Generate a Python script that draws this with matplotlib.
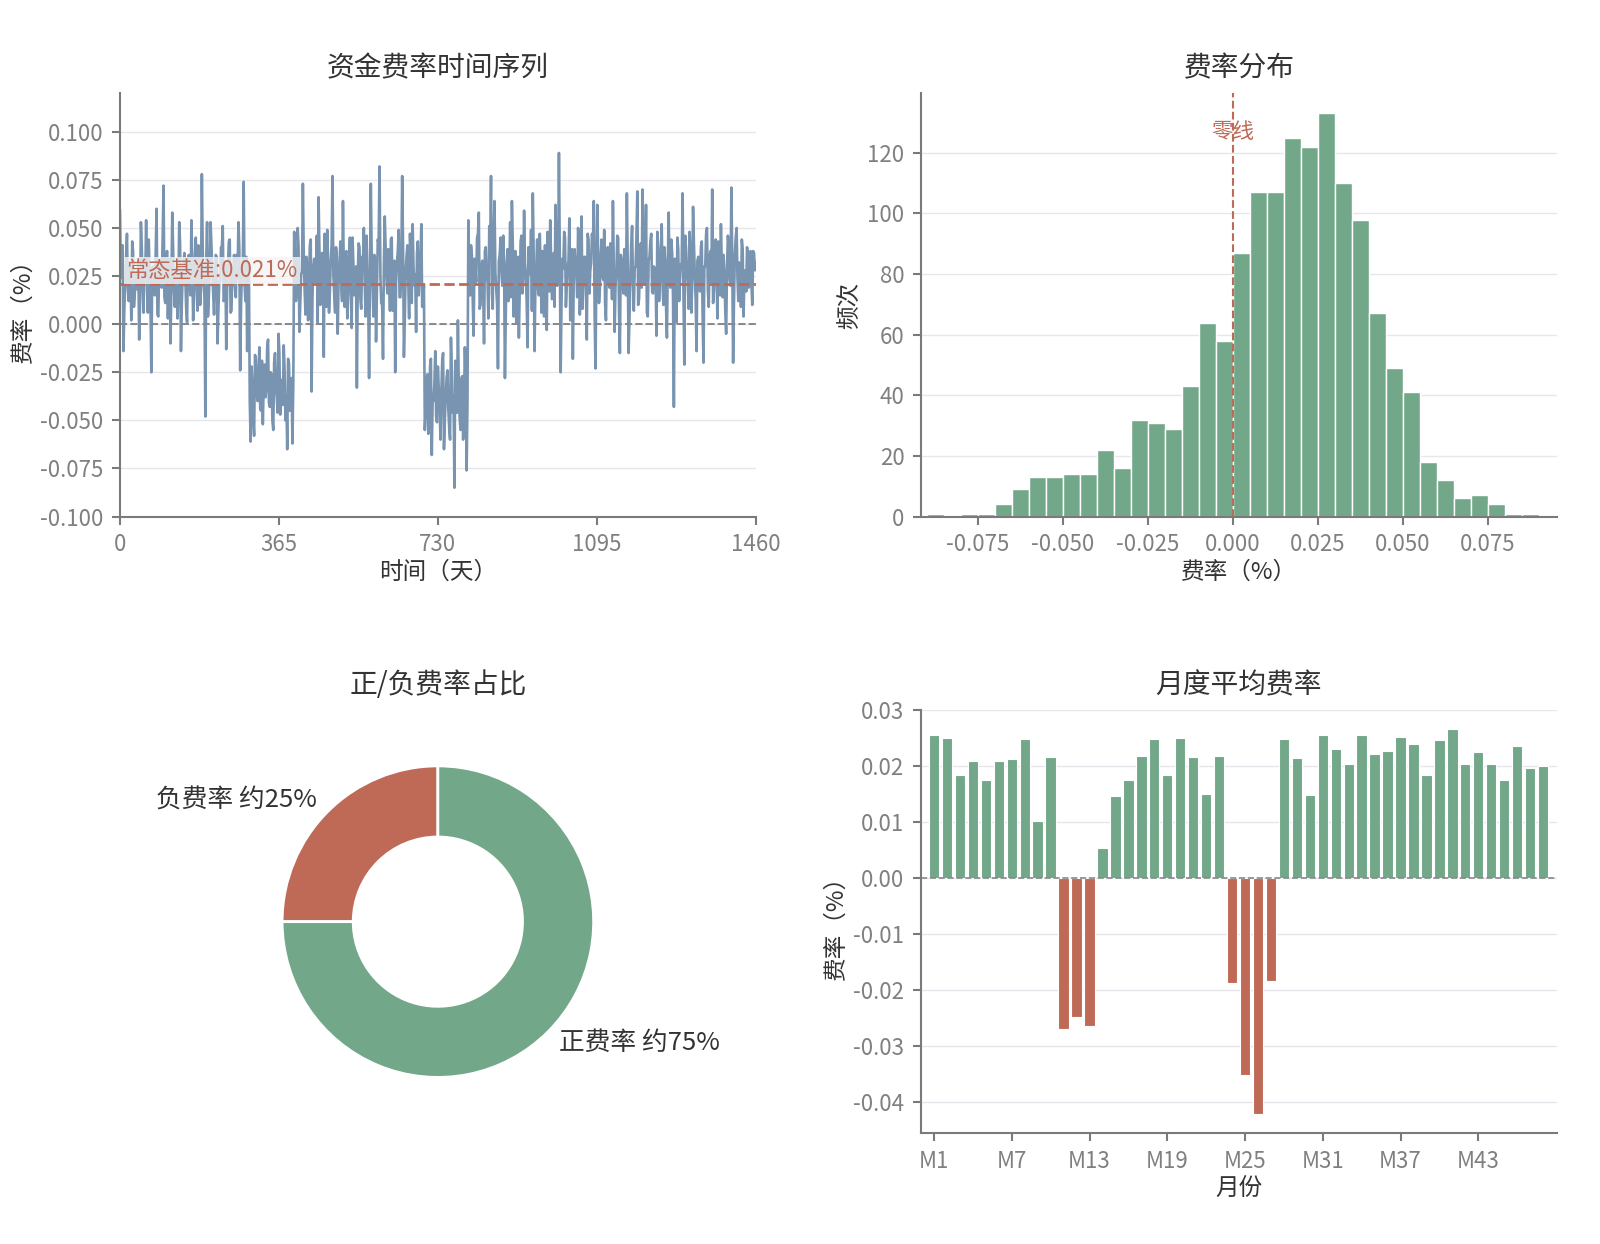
import numpy as np
import matplotlib
matplotlib.use('Agg')
import matplotlib.pyplot as plt

plt.rcParams['font.family'] = ['Noto Sans CJK SC', 'DejaVu Sans']
plt.rcParams['axes.unicode_minus'] = False

# daily funding rate (%), read every 4 days (days 0, 4, 8, ...)
rate = [
    0.059, 0.031, -0.014, 0.022, 0.047, 0.012, 0.028, 0.043, 0.009, 0.025,
    0.018, -0.008, 0.053, 0.021, 0.034, 0.054, 0.006, 0.027, -0.025, 0.030,
    0.015, 0.060, 0.004, 0.033, 0.019, 0.072, 0.011, 0.038, 0.024, -0.010,
    0.058, 0.017, 0.029, 0.003, 0.053, -0.014, 0.026, 0.037, 0.008, 0.031,
    0.020, 0.054, 0.002, 0.035, 0.016, 0.041, 0.010, 0.078, 0.023, -0.048,
    0.053, 0.014, 0.053, 0.027, 0.005, 0.036, -0.010, 0.022, 0.040, 0.051,
    0.013, -0.013, 0.030, 0.044, 0.007, 0.025, 0.019, 0.036, 0.053, -0.024,
    0.028, 0.074, 0.012, -0.014, 0.030, -0.061, -0.032, -0.058, -0.018, -0.040,
    -0.012, -0.045, -0.052, -0.021, -0.034, -0.008, -0.043, -0.026, -0.055, -0.015,
    -0.038, -0.005, -0.047, -0.029, -0.011, -0.050, -0.065, -0.020, -0.036, -0.062,
    0.048, 0.012, 0.050, -0.004, 0.026, 0.073, 0.018, 0.035, 0.002, 0.041,
    -0.035, 0.030, 0.022, 0.046, 0.066, 0.010, 0.037, -0.017, 0.028, 0.049,
    0.006, 0.033, 0.077, 0.015, 0.040, -0.005, 0.029, 0.021, 0.064, 0.009,
    0.038, 0.016, 0.045, -0.002, 0.031, 0.024, -0.033, 0.042, 0.013, 0.035,
    0.050, 0.004, 0.027, -0.028, 0.073, 0.019, 0.036, -0.009, 0.044, 0.082,
    0.011, -0.018, 0.056, 0.024, 0.039, 0.007, 0.045, 0.018, -0.025, 0.032,
    0.049, 0.014, 0.077, -0.017, 0.028, 0.041, 0.003, 0.034, 0.052, 0.020,
    -0.004, 0.043, 0.026, 0.052, 0.015, -0.055, -0.030, -0.057, -0.022, -0.068,
    -0.040, -0.014, -0.051, -0.033, -0.060, -0.019, -0.065, -0.038, -0.024, -0.054,
    -0.007, -0.046, -0.085, -0.030, 0.002, -0.049, -0.028, -0.060, -0.012, -0.076,
    0.054, 0.015, 0.036, -0.006, 0.029, 0.045, 0.058, 0.010, 0.033, -0.010,
    0.040, 0.022, 0.051, 0.077, 0.008, 0.064, 0.019, -0.023, 0.036, 0.027,
    0.046, -0.028, 0.031, 0.012, 0.053, 0.064, 0.004, 0.038, 0.021, -0.007,
    0.043, 0.016, 0.059, 0.026, -0.012, 0.035, 0.049, 0.068, -0.014, 0.029,
    0.018, 0.047, 0.006, 0.032, 0.041, -0.003, 0.025, 0.054, 0.013, 0.037,
    0.062, 0.020, 0.089, -0.025, 0.034, 0.048, 0.009, 0.030, 0.055, 0.017,
    -0.018, 0.039, 0.026, 0.050, 0.005, 0.056, 0.022, 0.035, -0.008, 0.044,
    0.028, 0.047, 0.064, -0.023, 0.062, 0.011, 0.036, 0.025, 0.049, 0.002,
    0.040, 0.019, 0.031, 0.064, -0.004, 0.027, 0.045, -0.015, 0.033, 0.016,
    0.038, 0.068, -0.015, 0.024, 0.051, 0.007, 0.030, 0.069, 0.013, 0.042,
    0.070, 0.021, 0.062, 0.004, 0.035, 0.047, 0.016, 0.029, -0.006, 0.040,
    0.024, 0.052, 0.010, 0.033, -0.007, 0.058, 0.019, 0.037, -0.043, 0.028,
    0.045, 0.012, 0.031, 0.068, -0.021, 0.039, 0.022, 0.048, 0.006, 0.061,
    0.026, -0.014, 0.035, 0.017, 0.043, -0.020, 0.030, 0.050, 0.009, 0.038,
    0.070, 0.018, 0.044, 0.003, 0.032, 0.052, 0.014, 0.027, -0.005, 0.046,
    0.023, 0.071, -0.020, 0.036, 0.050, 0.012, 0.031, 0.044, 0.004, 0.028,
    0.040, 0.019, 0.038, 0.010, 0.037, 0.032,
]
# values in between (days 2, 6, 10, ...)
rate_mid = [
    0.024, 0.041, 0.008, 0.035, 0.019, 0.030, 0.002, 0.038, 0.016, 0.027,
    0.033, 0.012, 0.040, 0.006, 0.025, 0.018, 0.044, 0.010, 0.029, 0.021,
    0.037, 0.005, 0.031, 0.023, 0.046, 0.014, 0.026, 0.003, 0.034, 0.020,
    0.039, 0.009, 0.028, 0.017, 0.042, 0.011, 0.032, 0.024, 0.001, 0.036,
    0.015, 0.030, 0.022, 0.045, 0.007, 0.027, 0.019, 0.038, 0.013, 0.033,
    0.004, 0.029, 0.041, 0.016, 0.025, 0.035, 0.008, 0.022, 0.040, 0.012,
    0.031, 0.018, 0.043, 0.006, 0.027, 0.036, 0.014, 0.024, 0.039, 0.010,
    0.030, 0.021, 0.035, 0.017,
    -0.040, -0.022, -0.049, -0.016, -0.035, -0.027, -0.044, -0.019, -0.031, -0.038,
    -0.012, -0.041, -0.025, -0.050, -0.020, -0.033, -0.046, -0.015, -0.029, -0.042,
    -0.024, -0.037, -0.018, -0.045, -0.028, -0.030,
    0.032, 0.019, 0.040, 0.011, 0.027, 0.036, 0.005, 0.030, 0.022, 0.044,
    0.014, 0.034, 0.025, 0.001, 0.038, 0.020, 0.029, 0.047, 0.009, 0.031,
    0.017, 0.041, 0.026, 0.006, 0.035, 0.023, 0.043, 0.012, 0.028, 0.037,
    0.003, 0.033, 0.019, 0.045, 0.015, 0.030, 0.024, 0.040, 0.008, 0.032,
    0.021, 0.046, 0.013, 0.027, 0.036, 0.004, 0.034, 0.018, 0.042, 0.025,
    0.010, 0.031, 0.039, 0.016, 0.028, 0.044, 0.007, 0.033, 0.022, 0.038,
    0.014, 0.029, 0.041, 0.002, 0.035, 0.023, 0.047, 0.011, 0.030, 0.026,
    0.037, 0.015, 0.032, 0.009, 0.020,
    -0.045, -0.026, -0.052, -0.018, -0.039, -0.031, -0.048, -0.022, -0.042, -0.035,
    -0.015, -0.050, -0.028, -0.044, -0.060, -0.024, -0.037, -0.019, -0.046, -0.033,
    -0.055, -0.027, -0.041, -0.030, -0.040,
    0.028, 0.041, 0.013, 0.034, 0.022, 0.047, 0.008, 0.030, 0.019, 0.038,
    0.025, 0.003, 0.036, 0.016, 0.043, 0.027, 0.010, 0.033, 0.045, 0.020,
    0.031, 0.006, 0.039, 0.024, 0.014, 0.042, 0.029, 0.001, 0.035, 0.018,
    0.046, 0.023, 0.032, 0.011, 0.040, 0.026, 0.007, 0.037, 0.021, 0.044,
    0.015, 0.030, 0.038, 0.004, 0.027, 0.048, 0.017, 0.034, 0.025, 0.009,
    0.041, 0.022, 0.036, 0.012, 0.029, 0.045, 0.019, 0.033, 0.002, 0.039,
    0.024, 0.031, 0.014, 0.043, 0.026, 0.008, 0.035, 0.020, 0.047, 0.016,
    0.032, 0.040, 0.005, 0.028, 0.037, 0.018, 0.044, 0.023, 0.011, 0.034,
    0.027, 0.042, 0.013, 0.030, 0.021, 0.046, 0.007, 0.036, 0.025, 0.039,
    0.015, 0.032, 0.003, 0.041, 0.022, 0.029, 0.045, 0.010, 0.035, 0.019,
    0.038, 0.026, 0.006, 0.033, 0.043, 0.017, 0.030, 0.024, 0.048, 0.012,
    0.036, 0.020, 0.040, 0.009, 0.031, 0.027, 0.044, 0.014, 0.034, 0.001,
    0.039, 0.023, 0.032, 0.016, 0.046, 0.028, 0.008, 0.037, 0.021, 0.042,
    0.013, 0.033, 0.025, 0.040, 0.004, 0.030, 0.047, 0.018, 0.035, 0.022,
    0.011, 0.038, 0.026, 0.043, 0.015, 0.031, 0.036, 0.007, 0.029, 0.041,
    0.020, 0.034, 0.012, 0.045, 0.024, 0.032, 0.009, 0.039, 0.027, 0.017,
    0.035, 0.030, 0.022, 0.038, 0.028,
]
baseline = 0.021

# histogram (bins of 0.005 from -0.09 to 0.09)
bin_edges = np.round(np.arange(-0.09, 0.0901, 0.005), 3)
bin_counts = [1, 0, 1, 1, 4, 9, 13, 13, 14, 14, 22, 16, 32, 31, 29, 43, 64, 58,
              87, 107, 107, 125, 122, 133, 110, 98, 67, 49, 41, 18, 12, 6, 7, 4, 1, 1]

pie_labels = ['负费率 约25%', '正费率 约75%']
pie_shares = [25, 75]

months = ['M%d' % i for i in range(1, 49)]
monthly = [0.0255, 0.0250, 0.0185, 0.0209, 0.0176, 0.0210, 0.0212, 0.0248, 0.0102, 0.0216,
           -0.0270, -0.0249, -0.0264, 0.0053, 0.0147, 0.0175, 0.0218, 0.0248, 0.0185, 0.0250,
           0.0216, 0.0151, 0.0218, -0.0188, -0.0353, -0.0422, -0.0185, 0.0248, 0.0215, 0.0148,
           0.0255, 0.0231, 0.0203, 0.0255, 0.0221, 0.0227, 0.0253, 0.0240, 0.0185, 0.0246,
           0.0266, 0.0203, 0.0225, 0.0203, 0.0176, 0.0236, 0.0196, 0.0200]

BLUE = '#7894B0'
GREEN = '#72A889'
RED = '#BF6A56'
TICK = '#808080'
DARK = '#333333'

series = np.empty(len(rate) + len(rate_mid))
series[0::2] = rate
series[1::2] = rate_mid
days = np.arange(0, 1461, 2)


def style(ax):
    for s in ['top', 'right']:
        ax.spines[s].set_visible(False)
    for s in ['left', 'bottom']:
        ax.spines[s].set_color('#7a7a7a')
        ax.spines[s].set_linewidth(1.5)
    ax.tick_params(colors='#7a7a7a', labelcolor=TICK, labelsize=16, length=6, width=1.5, pad=6)
    ax.grid(axis='y', color='#e6e6ec', lw=1)
    ax.set_axisbelow(True)


fig, axes = plt.subplots(2, 2, figsize=(16, 12.44), dpi=100)
fig.subplots_adjust(left=0.075, right=0.973, top=0.925, bottom=0.089, wspace=0.26, hspace=0.457)

# time series
ax = axes[0, 0]
style(ax)
ax.plot(days, series, color=BLUE, lw=1.9)
ax.axhline(0, color='#888888', ls='--', lw=1.4)
ax.axhline(baseline, color=RED, ls='--', lw=2.0)
ax.text(15, baseline + 0.001, '常态基准:%.3f%%' % baseline, color=RED, fontsize=16,
        ha='left', va='bottom',
        bbox=dict(boxstyle='square,pad=0.1', fc='#f4f4f4', ec='none', alpha=0.8))
ax.set_xlim(0, 1460)
ax.set_ylim(-0.1, 0.12)
ax.set_xticks([0, 365, 730, 1095, 1460])
yt = [-0.1, -0.075, -0.05, -0.025, 0.0, 0.025, 0.05, 0.075, 0.1]
ax.set_yticks(yt)
ax.set_yticklabels(['%.3f' % v for v in yt])
ax.set_title('资金费率时间序列', fontsize=20, color=DARK, pad=12)
ax.set_xlabel('时间（天）', fontsize=17, color=DARK, labelpad=3)
ax.set_ylabel('费率（%）', fontsize=17, color=DARK)

# histogram
ax = axes[0, 1]
style(ax)
ax.bar(bin_edges[:-1], bin_counts, width=0.005, align='edge', color=GREEN,
       edgecolor='white', linewidth=1)
ax.axvline(0, color=RED, ls='--', lw=1.5)
ax.text(0, 127, '零线', color=RED, fontsize=15.5, ha='center', va='center')
ax.set_xlim(-0.0917, 0.0953)
xt = [-0.075, -0.05, -0.025, 0.0, 0.025, 0.05, 0.075]
ax.set_xticks(xt)
ax.set_xticklabels(['%.3f' % v for v in xt])
ax.set_title('费率分布', fontsize=20, color=DARK, pad=12)
ax.set_xlabel('费率（%）', fontsize=17, color=DARK, labelpad=3)
ax.set_ylabel('频次', fontsize=17, color=DARK)

# donut
ax = axes[1, 0]
ax.pie(pie_shares, labels=pie_labels, colors=[RED, GREEN], startangle=90,
       radius=0.92, wedgeprops=dict(width=0.42, edgecolor='white', linewidth=2),
       textprops=dict(fontsize=18.5, color=DARK))
ax.set_title('正/负费率占比', fontsize=20, color=DARK, pad=12)

# monthly means
ax = axes[1, 1]
style(ax)
xs = np.arange(len(monthly))
ax.bar(xs, monthly, width=0.8, color=[GREEN if v >= 0 else RED for v in monthly],
       edgecolor='white', linewidth=0.8)
ax.axhline(0, color='#888888', ls='--', lw=1.2)
ax.set_xlim(-1, 48.06)
ax.set_xticks(xs[::6])
ax.set_xticklabels(months[::6])
ax.set_title('月度平均费率', fontsize=20, color=DARK, pad=12)
ax.set_xlabel('月份', fontsize=17, color=DARK, labelpad=3)
ax.set_ylabel('费率（%）', fontsize=17, color=DARK)

fig.savefig('out.png', dpi=100)
